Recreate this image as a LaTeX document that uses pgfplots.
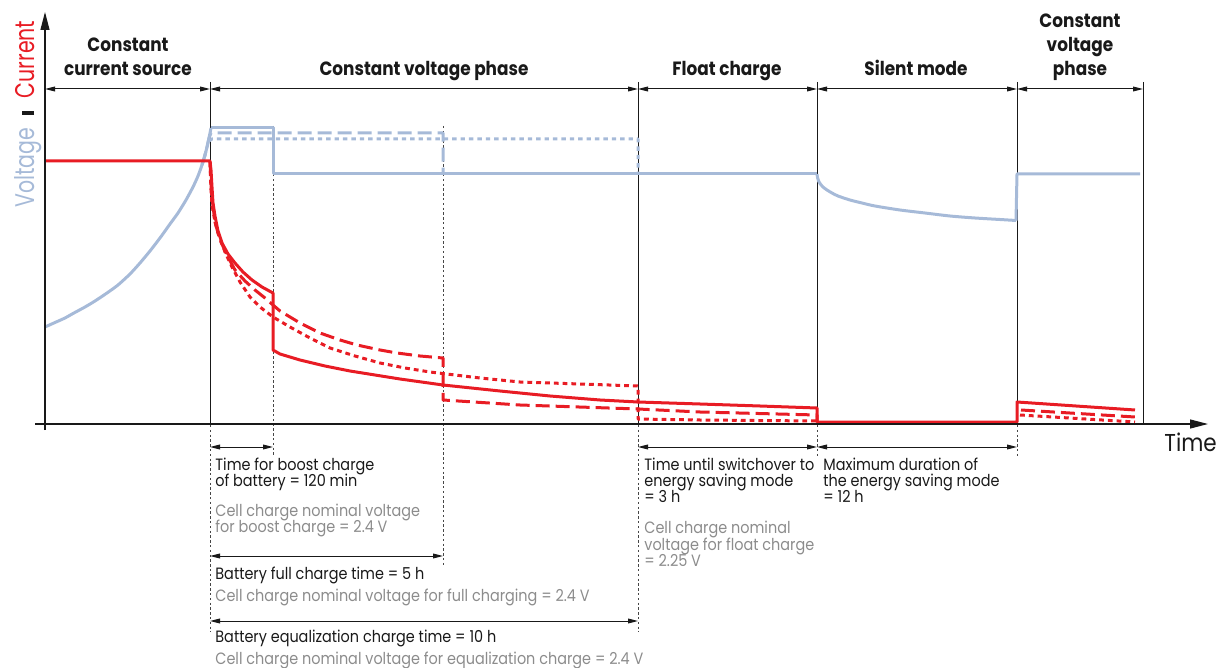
\documentclass[border=0pt]{standalone}
\usepackage{pgfplots}
\pgfplotsset{compat=1.18}
\usetikzlibrary{arrows.meta}
\usepackage{fontspec}
\setmainfont[FakeStretch=0.88]{Poppins}
\newfontfamily\labfont[FakeStretch=0.76]{Poppins}
\definecolor{vblue}{RGB}{166,186,216}
\definecolor{cred}{RGB}{232,28,36}
\definecolor{tgray}{RGB}{140,140,140}
\definecolor{tblack}{RGB}{25,25,25}
\definecolor{dgray}{RGB}{70,70,70}
\tikzset{
  volt/.style={color=vblue, line width=1.5pt, line join=round},
  curr/.style={color=cred, line width=1.5pt, line join=round},
  sep/.style={draw=tblack, line width=0.5pt},
  dsep/.style={draw=dgray, line width=0.5pt, dash pattern=on 1.2pt off 1.2pt},
  dim/.style={draw=tblack, line width=0.5pt, {Triangle[length=5pt,width=2.4pt]}-{Triangle[length=5pt,width=2.4pt]}},
  lb/.style={anchor=base west, inner sep=0pt, font=\fontsize{8.2}{9}\selectfont, text=tblack},
  lg/.style={anchor=base west, inner sep=0pt, font=\fontsize{8.2}{9}\selectfont, text=tgray},
  hd/.style={anchor=base, inner sep=0pt, font=\fontsize{9.6}{10}\selectfont\bfseries, text=tblack},
}

\begin{document}
\begin{tikzpicture}
\begin{axis}[
  scale only axis, width=610.5pt, height=334pt,
  xmin=0, xmax=1221, ymin=0, ymax=668, y dir=reverse,
  hide axis, clip=false,
]
% ---------- separators and dimension lines ----------
\draw[dsep] (axis cs:210,425) -- (axis cs:210,632);
\draw[dsep] (axis cs:273,126) -- (axis cs:273,456);
\draw[dsep] (axis cs:443,126) -- (axis cs:443,566);
\draw[dsep] (axis cs:638,425) -- (axis cs:638,632);
\draw[dsep] (axis cs:817,425) -- (axis cs:817,456);
\draw[dsep] (axis cs:1017,425) -- (axis cs:1017,456);
\draw[sep] (axis cs:210,82) -- (axis cs:210,425);
\draw[sep] (axis cs:638,82) -- (axis cs:638,425);
\draw[sep] (axis cs:817,82) -- (axis cs:817,425);
\draw[sep] (axis cs:1017,82) -- (axis cs:1017,425);
\draw[sep] (axis cs:1143,82) -- (axis cs:1143,425);
\draw[dim] (axis cs:45,89) -- (axis cs:210,89);
\draw[dim] (axis cs:210,89) -- (axis cs:638,89);
\draw[dim] (axis cs:638,89) -- (axis cs:817,89);
\draw[dim] (axis cs:817,89) -- (axis cs:1017,89);
\draw[dim] (axis cs:1017,89) -- (axis cs:1143,89);
\draw[dim] (axis cs:210,447) -- (axis cs:273,447);
\draw[dim] (axis cs:638,447) -- (axis cs:817,447);
\draw[dim] (axis cs:817,447) -- (axis cs:1017,447);
\draw[dim] (axis cs:210,556) -- (axis cs:443,556);
\draw[dim] (axis cs:210,621) -- (axis cs:638,621);

% ---------- voltage ----------
\addplot[volt, dash pattern=on 2.2pt off 2pt] coordinates {(202,165) (205,155) (207,147) (209,141) (212,139) (638,139) (638,174)};
\addplot[volt, dash pattern=on 7pt off 3pt] coordinates {(202,165) (205,155) (207,147) (209,138) (211,133) (443,133) (443,174)};
\addplot[volt, smooth, tension=0.4] coordinates {
(45,327) (55,322.5) (65,318) (73,313.5) (85,307) (95,301) (107,293) (118,285) (130,274)
(140,263) (150,251) (160,238) (170,224) (178,213) (186,200) (193,187) (198,176)
(202,165) (205,155) (207,147) (209,138) (211,128)};
\addplot[volt] coordinates {(211,128) (273,128) (273,174) (817,174)};
\addplot[volt, smooth, tension=0.5] coordinates {
(817,174) (817.6,178) (818.6,181) (820,183.5) (823,187) (827,190) (832,193) (838,196)
(850,200) (862,203) (875,206) (900,210) (925,213) (950,216) (975,218) (1000,219.5) (1016,220.5)};
\addplot[volt] coordinates {(1016,220.5) (1017,174) (1140,174)};

% ---------- current ----------
\addplot[curr, dash pattern=on 2.4pt off 2pt] coordinates {
(210,162) (211,190) (212,205) (215,222) (218,233) (225,252) (232,267) (240,282) (250,297) (260,307) (273,317)
(290,327) (310,338) (330,348) (355,356) (380,363) (405,368) (430,372) (480,378)
(520,382) (580,384) (638,386) (638,419) (700,420) (817,421) (817,422)};
\addplot[curr, dash pattern=on 7pt off 3pt] coordinates {
(210,162) (211,185) (212,198) (215,222) (220,240) (228,257) (235,270) (245,281) (255,290) (265,298) (273,305)
(280,311) (300,323) (320,333) (340,340) (357,345) (380,350) (397,353) (420,356) (443,358)
(443,400) (520,405) (638,409) (700,412) (817,415) (817,422)};
\addplot[curr] coordinates {
(45,161) (210,161) (211,170) (212,187) (213,203) (215,216) (218,231) (222,243) (228,254) (235,263)
(243,272) (252,280) (262,287) (273,293) (273,350) (280,354) (300,360) (325,366) (350,371)
(400,379) (443,385) (500,391) (550,396) (600,400) (638,402) (700,404) (760,406) (817,408)
(817,422) (1017,422) (1017,402) (1135,410)};
\addplot[curr, dash pattern=on 7pt off 3pt] coordinates {(1021,410) (1135,417)};
\addplot[curr, dash pattern=on 2.4pt off 2pt] coordinates {(1020,415) (1135,422)};

% ---------- axes ----------
\draw[draw=tblack, line width=0.6pt, -{Triangle[length=9pt,width=4.5pt]}] (axis cs:35,424) -- (axis cs:1208,424);
\draw[draw=tblack, line width=0.6pt, -{Triangle[length=9pt,width=4.5pt]}] (axis cs:45,430) -- (axis cs:45,12);
\node[anchor=base west, inner sep=0pt, font=\fontsize{12.2}{13}\selectfont, text=tblack] at (axis cs:1164,451) {Time};
\node[anchor=base west, inner sep=0pt, rotate=90, font=\labfont\fontsize{13.5}{15}\selectfont] at (axis cs:34,208)
  {\textcolor{vblue}{Voltage}\hspace{6.5pt}{\color{tblack}\rule{1.7pt}{5.8pt}}\hspace{6.5pt}\textcolor{cred}{Current}};

% ---------- headings ----------
\node[hd] at (axis cs:128,52) {Constant};
\node[hd] at (axis cs:128,76) {current source};
\node[hd] at (axis cs:424,76) {Constant voltage phase};
\node[hd] at (axis cs:727,76) {Float charge};
\node[hd] at (axis cs:916,76) {Silent mode};
\node[hd] at (axis cs:1080,28) {Constant};
\node[hd] at (axis cs:1080,52) {voltage};
\node[hd] at (axis cs:1080,76) {phase};

% ---------- annotations ----------
\node[lb] at (axis cs:215,470) {Time for boost charge};
\node[lb] at (axis cs:215,486) {of battery = 120 min};
\node[lg] at (axis cs:215,516) {Cell charge nominal voltage};
\node[lg] at (axis cs:215,532) {for boost charge = 2.4 V};
\node[lb] at (axis cs:215,579) {Battery full charge time = 5 h};
\node[lg] at (axis cs:215,601) {Cell charge nominal voltage for full charging = 2.4 V};
\node[lb] at (axis cs:215,642) {Battery equalization charge time = 10 h};
\node[lg] at (axis cs:215,664) {Cell charge nominal voltage for equalization charge = 2.4 V};
\node[lb] at (axis cs:644,470) {Time until switchover to};
\node[lb] at (axis cs:644,486) {energy saving mode};
\node[lb] at (axis cs:644,502) {= 3 h};
\node[lg] at (axis cs:644,533) {Cell charge nominal};
\node[lg] at (axis cs:644,550) {voltage for float charge};
\node[lg] at (axis cs:644,566) {= 2.25 V};
\node[lb] at (axis cs:823,470) {Maximum duration of};
\node[lb] at (axis cs:823,486) {the energy saving mode};
\node[lb] at (axis cs:823,502) {= 12 h};
\end{axis}
\pgfresetboundingbox
\path (0,0) rectangle (610.5pt,334pt);
\end{tikzpicture}
\end{document}
